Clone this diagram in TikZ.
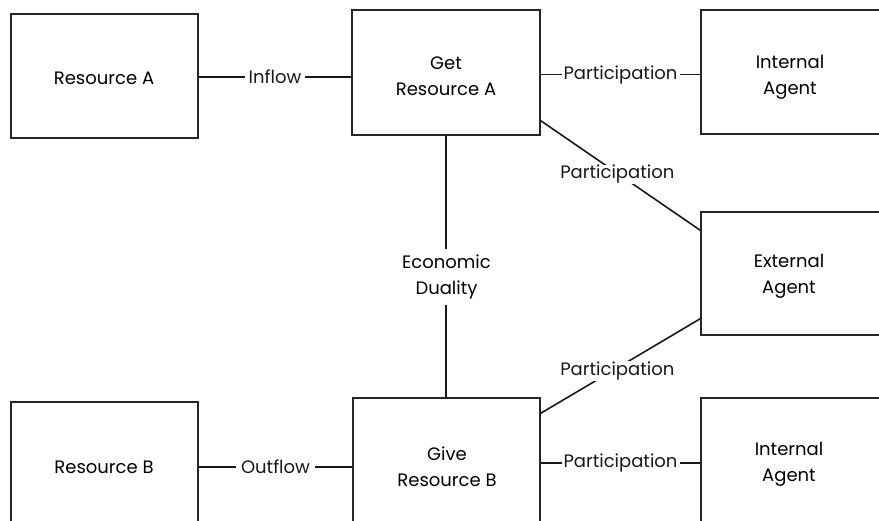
\documentclass[tikz,border=0pt]{standalone}
\usepackage{fontspec}
\setmainfont{Poppins}
\usetikzlibrary{calc}
\begin{document}
\begin{tikzpicture}[x=1pt,y=-1pt,
  box/.style={draw=black!85, line width=1.3pt, minimum width=#1, inner sep=0pt},
  box/.default=187pt,
  txt/.style={align=center, inner sep=0pt, font=\fontsize{18}{26}\selectfont},
  link/.style={line width=1.6pt, black!90},
  lab/.style={fill=white, inner sep=3pt, font=\fontsize{18}{26}\selectfont, align=center},
  dlab/.style={fill=white, inner sep=0.5pt, font=\fontsize{18}{26}\selectfont}]
\useasboundingbox (0,0) rectangle (879,520);
\clip (0,0) rectangle (879,520);
\fill[white] (0,0) rectangle (879,520);
% boxes
\node[box=187pt, minimum height=124pt] (resA) at (104.5,76) {};
\node[box=188pt, minimum height=125pt] (getA) at (446,72.5) {};
\node[box=181pt, minimum height=124pt] (intA) at (791.5,72) {};
\node[box=181pt, minimum height=123pt] (ext) at (791.5,273.5) {};
\node[box=187pt, minimum height=130pt] (resB) at (104.5,467) {};
\node[box=187pt, minimum height=134pt] (giveB) at (446.5,465) {};
\node[box=181pt, minimum height=132pt] (intB) at (791.5,464) {};
% box texts
\node[txt] (tresA) at (104,78) {Resource A};
\node[txt] (tgetA) at (446,76) {Get\\Resource A};
\node[txt] (tintA) at (790,77) {Internal\\Agent};
\node[txt] (text) at (789,276) {External\\Agent};
\node[txt] (tresB) at (104,467) {Resource B};
\node[txt] (tgiveB) at (447,467) {Give\\Resource B};
\node[txt] (tintB) at (789,464) {Internal\\Agent};
% connectors
\coordinate (a1) at ($(resA.east)+(0,1)$);
\draw[link] (a1) -- node[lab, inner sep=4pt] {Inflow} (getA.west |- a1);
\coordinate (b1) at ($(resB.east)+(0,0)$);
\draw[link] (b1) -- node[lab, inner sep=5pt] {Outflow} (giveB.west |- b1);
\coordinate (p1) at ($(getA.east)+(0,2)$);
\draw[link] (p1) -- node[lab, inner sep=2pt] {Participation} (intA.west |- p1);
\coordinate (p4) at ($(giveB.east)+(0,-2)$);
\draw[link] (p4) -- node[lab, inner sep=2pt] {Participation} (intB.west |- p4);
\draw[link] (getA.south) -- (giveB.north -| getA.south);
\node[lab, inner sep=6pt] (ed) at (446.5,277) {Economic\\Duality};
\coordinate (p2s) at ($(getA.south east)+(0,-15)$);
\coordinate (p2e) at ($(ext.north west)+(0,19)$);
\draw[link] (p2s) -- node[dlab, pos=0.48, yshift=-1pt] {Participation} (p2e);
\coordinate (p3s) at ($(giveB.north east)+(0,16)$);
\coordinate (p3e) at ($(ext.south west)+(0,-17)$);
\draw[link] (p3s) -- node[dlab, pos=0.48, yshift=-3pt] {Participation} (p3e);
\end{tikzpicture}
\end{document}
